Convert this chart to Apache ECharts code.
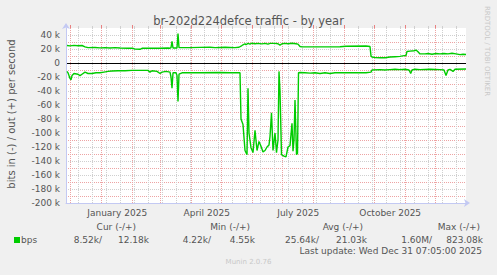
<!DOCTYPE html>
<html><head><meta charset="utf-8">
<script src="https://cdn.jsdelivr.net/npm/echarts@6/dist/echarts.min.js"></script>
<style>html,body{margin:0;padding:0;background:#F0F0F0}#c{width:497px;height:275px}</style>
</head><body><div id="c"></div>
<script>
// ---- data ----
const titleText = 'br-202d224defce traffic - by year';
const yAxisTitle = 'bits in (-) / out (+) per second';
const rangeStartUTC = Date.UTC(2024, 10, 26, 7, 5); // 400 days before last update
const monthStarts = ['2024-12-01','2025-01-01','2025-02-01','2025-03-01','2025-04-01','2025-05-01','2025-06-01','2025-07-01','2025-08-01','2025-09-01','2025-10-01','2025-11-01','2025-12-01','2026-01-01'];
const labelMonthIdx = [1, 4, 7, 10];
const labelTexts = ['January 2025', 'April 2025', 'July 2025', 'October 2025'];
const minorFirstDay = 12.3, minorStepDays = 14;
// day offsets from range start / values in k (bits per second)
const outDays = [1,4,8,12,16,19,22,29,34,39,44,49,54,62,67,69,74,76,84,94,102,104,105,106,107,111,112,113,124,134,144,149,159,169,173,175,177,179,180,182,184,186,189,192,196,199,202,204,209,212,214,216,219,222,226,230,232,234,236,254,274,280,300,304,305,306,309,314,319,324,329,334,338,340,341,344,348,350,352,354,359,362,366,370,374,378,382,386,390,394,397,400];
const outK = [25,24.5,25.2,24.6,25,23,22,22.2,21.6,22,21.5,22,21.5,21,21,19.8,19.6,21,21.2,21,21.5,21,22,31,21.5,21.5,42,22,22,22.3,22.5,22,22.5,22,22.5,24,26,27.5,26,28,27,28.3,27.5,28,27.3,28,27,28,28,27.5,25.5,27.5,28,27.5,28.2,27.5,27,23.5,23,23,23.3,24,24.2,23.5,10,8.5,7.8,7.5,7.5,8.5,9,9.5,10.5,10.5,16.5,17,17.5,18.5,16,13,13,13.5,12.5,13.5,13,13.5,13,14,13,12,12.5,12.2];
const inDays = [1,2,4,5,6,8,12,14,16,19,22,26,30,34,38,42,46,52,59,66,74,82,84,86,91,94,96,100,104,105,106,107,110,111,112,113,116,134,154,164,173,174,175,177,179,181,182,183,185,187,189,191,193,195,197,199,201,203,204,205.5,207,209,210.5,212,213,214,215.5,218,220,222,224,226,227,228,229,230.5,231.5,232.5,234,239,244,249,254,259,264,269,284,300,305,306,314,319,324,329,334,339,343,344.7,346,349,354,364,374,378,380,382,384,387,389,400];
const inK = [-12,-14,-22,-24,-18,-15,-16,-18,-16,-13,-15,-15,-14,-14,-13,-12,-11.5,-11,-11,-10.5,-10.5,-10.5,-13,-11,-12,-15,-13,-12,-13,-20,-36,-14,-14,-18,-55,-16,-14,-14,-13.5,-14,-14,-14,-80,-88,-125,-131,-36,-100,-121,-128,-96,-125,-112,-119,-127,-125,-120,-117,-105,-71,-125,-100,-128,-110,-12,-40,-131,-133,-134,-120,-118,-86,-126,-110,-53,-131,-129,-14,-13.5,-14,-14.5,-14,-15,-14,-15,-14,-14,-14,-13,-10,-9.5,-10,-9.5,-9,-9.5,-9,-10,-15,-10,-9,-9.5,-9,-9.5,-10,-18,-10,-9,-12,-9,-8.5];
const legendName = 'bps';
const legendHeaders = ['Cur (-/+)', 'Min (-/+)', 'Avg (-/+)', 'Max (-/+)'];
const legendIn = ['8.52k/', '4.22k/', '25.64k/', '1.60M/'];
const legendOut = ['12.18k', '4.55k', '21.03k', '823.08k'];
const lastUpdate = 'Last update: Wed Dec 31 07:05:00 2025';
const footer = 'Munin 2.0.76';
const sideText = 'RRDTOOL / TOBI OETIKER';

// ---- derived ----
const DAY = 86400000;
const dayOf = s => (Date.parse(s + 'T00:00:00Z') - rangeStartUTC) / DAY;
const monthOffsets = monthStarts.map(dayOf);
const monthGrid = monthOffsets.filter(d => d >= 0 && d <= 400).map(d => Math.floor(d) + 0.5);
const labelPos = labelMonthIdx.map(i => (monthOffsets[i] + monthOffsets[i + 1]) / 2);
const minorGrid = [];
for (let d = minorFirstDay; d <= 400; d += minorStepDays) minorGrid.push(Math.floor(d) + 0.5);

const FONT = '"DejaVu Sans", sans-serif';
const TXT = '#555555';
const RED = '#EDA3A3', GRAY = '#CFCFCF', AX = '#C3C9F3';
const outData = outDays.map((d, i) => [d, outK[i]]);
const inData = inDays.map((d, i) => [d, inK[i]]);

const chart = echarts.init(document.getElementById('c'), null, {renderer: 'svg'});
const t = (text, x, y, opt) => Object.assign({type: 'text', x, y, silent: true,
  style: Object.assign({text, fill: TXT, font: '9px ' + FONT, textAlign: 'left', textVerticalAlign: 'middle'}, opt || {})});

const graphics = [
  t(titleText, 248.5, 20.5, {font: '11.5px ' + FONT, textAlign: 'center'}),
  Object.assign(t(yAxisTitle, 11.5, 114, {font: '10px ' + FONT, textAlign: 'center'}), {rotation: Math.PI / 2}),
  Object.assign(t(sideText, 487, 51, {font: '7px ' + FONT, fill: '#C8C8C8', textAlign: 'center'}), {rotation: -Math.PI / 2}),
  {type: 'rect', shape: {x: 14, y: 237, width: 6, height: 6}, style: {fill: '#00CC00'}, silent: true},
  t(legendName, 21, 240),
  t(lastUpdate, 482, 251, {textAlign: 'right'}),
  t(footer, 248.5, 262, {font: '7px ' + FONT, fill: '#C8C8C8', textAlign: 'center'})
];
const headerRight = [136, 250, 363, 480];
const inRight = [102, 211, 319, 432];
const outRight = [149, 255, 367, 483];
legendHeaders.forEach((h, i) => graphics.push(t(h, headerRight[i], 226.5, {textAlign: 'right'})));
legendIn.forEach((h, i) => graphics.push(t(h, inRight[i], 240, {textAlign: 'right'})));
legendOut.forEach((h, i) => graphics.push(t(h, outRight[i], 240, {textAlign: 'right'})));

const vLines = [].concat(
  minorGrid.map(v => ({xAxis: v, lineStyle: {color: GRAY, type: [1, 1], width: 1}})),
  monthGrid.map(v => ({xAxis: v, lineStyle: {color: RED, type: [1, 1], width: 1}}))
);

const baseX = {type: 'value', min: 0, max: 400, gridIndex: 0, splitLine: {show: false}};
chart.setOption({
  animation: false,
  backgroundColor: '#F0F0F0',
  grid: {left: 66, top: 28, width: 400, height: 175, backgroundColor: '#FFFFFF', show: true, borderWidth: 0},
  xAxis: [
    Object.assign({}, baseX, {
      axisLine: {show: true, onZero: false, lineStyle: {color: AX}, symbol: ['none', 'arrow'], symbolSize: [6, 6], symbolOffset: [0, 4]},
      axisTick: {show: false},
      axisLabel: {customValues: labelPos, formatter: v => {
        const i = labelPos.findIndex(p => Math.abs(p - v) < 0.01); return i >= 0 ? labelTexts[i] : ''; },
        color: TXT, fontSize: 9, fontFamily: FONT, margin: 5}
    }),
    Object.assign({}, baseX, {axisLine: {show: false, onZero: false}, axisLabel: {show: false},
      axisTick: {show: true, customValues: minorGrid, length: 2, lineStyle: {color: GRAY}}}),
    Object.assign({}, baseX, {axisLine: {show: false, onZero: false}, axisLabel: {show: false},
      axisTick: {show: true, customValues: monthGrid, length: 3, lineStyle: {color: '#E88080'}}})
  ],
  yAxis: [
    {type: 'value', min: -200, max: 50, interval: 10,
      axisLine: {show: true, onZero: false, lineStyle: {color: AX}, symbol: ['none', 'arrow'], symbolSize: [6, 6], symbolOffset: [0, 5]},
      axisTick: {show: false},
      axisLabel: {formatter: v => (v % 20 === 0 && v <= 40) ? (v === 0 ? '0' : v + ' k') : '', color: TXT, fontSize: 9, fontFamily: FONT, margin: 6},
      splitLine: {show: true, showMinLine: false, showMaxLine: false, lineStyle: {color: [RED, GRAY], type: [1, 1], width: 1}}},
    {type: 'value', min: -200, max: 50, interval: 200, position: 'left',
      axisLine: {show: false}, axisTick: {show: false}, axisLabel: {show: false},
      splitLine: {show: true, showMinLine: false, showMaxLine: false, lineStyle: {color: '#000000', width: 1, type: 'solid'}}}
  ],
  graphic: graphics,
  series: [
    {type: 'line', xAxisIndex: 0, yAxisIndex: 0, data: [], silent: true, z: 1,
      markLine: {silent: true, symbol: 'none', label: {show: false}, animation: false, data: vLines}},
    {name: legendName + ' out', type: 'line', data: outData, showSymbol: false, symbol: 'none', z: 5,
      lineStyle: {color: '#00CC00', width: 1.4}, itemStyle: {color: '#00CC00'}, silent: true},
    {name: legendName + ' in', type: 'line', data: inData, showSymbol: false, symbol: 'none', z: 5,
      lineStyle: {color: '#00CC00', width: 1.4}, itemStyle: {color: '#00CC00'}, silent: true}
  ]
});
</script></body></html>
